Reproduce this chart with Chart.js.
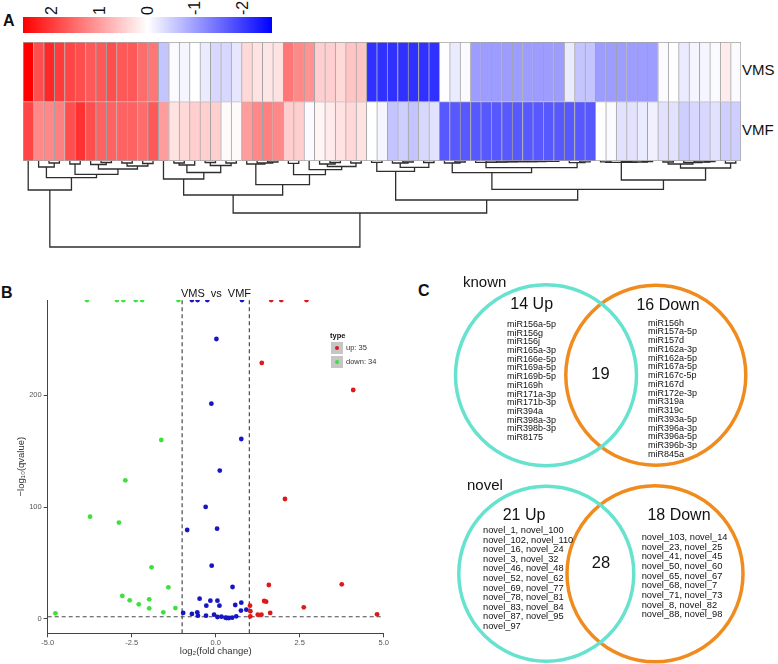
<!DOCTYPE html>
<html>
<head>
<meta charset="utf-8">
<script src="https://cdn.jsdelivr.net/npm/chart.js@4.4.1/dist/chart.umd.min.js"></script>
<style>
  html, body { margin: 0; padding: 0; background: #fff; }
  body { width: 778px; height: 664px; position: relative; overflow: hidden;
         font-family: "Liberation Sans", Arial, Helvetica, sans-serif; color: #111; }
  canvas { position: absolute; display: block; }
  .lab { position: absolute; white-space: nowrap; line-height: 1; }
  .panel { font-weight: bold; font-size: 16px; }
  .tick { position: absolute; font-size: 16px; line-height: 16px; transform: rotate(-90deg); transform-origin: 0 50%; }
  .list { position: absolute; white-space: pre; font-size: 9px; }
  .key { position: absolute; width: 12px; height: 12px; background: #c6c6c6; }
  .key i { position: absolute; left: 4px; top: 4px; width: 4px; height: 4px; border-radius: 50%; }
</style>
</head>
<body>
<div class="lab panel" style="left:3px;top:13px">A</div>
<div class="lab panel" style="left:1px;top:285px">B</div>
<div class="lab panel" style="left:418px;top:283px">C</div>

<div id="colorbar" style="position:absolute;left:23px;top:17px;width:249px;height:16px;background:linear-gradient(to right,#ff0000,#ffffff,#0000ff)"></div>
<div id="barTicks"></div>

<canvas id="heat" width="718" height="119" style="left:23px;top:42px"></canvas>
<canvas id="dendro" width="718" height="90" style="left:23px;top:161px"></canvas>
<div class="lab" style="left:742px;top:62px;font-size:15px">VMS</div>
<div class="lab" style="left:742px;top:122px;font-size:15px">VMF</div>

<canvas id="volcano" width="390" height="374" style="left:0px;top:290px"></canvas>
<div class="lab" style="left:216px;top:288px;font-size:11px;transform:translateX(-50%);word-spacing:3px">VMS vs VMF</div>
<div class="lab" style="left:330px;top:332px;font-size:7.5px;font-weight:bold">type</div>
<div class="key" style="left:331px;top:342px"><i style="background:#e01818"></i></div>
<div class="key" style="left:331px;top:356px"><i style="background:#3ee03e"></i></div>
<div class="lab" style="left:346px;top:344px;font-size:7.5px;color:#333">up: 35</div>
<div class="lab" style="left:346px;top:358px;font-size:7.5px;color:#333">down: 34</div>

<canvas id="venn" width="378" height="394" style="left:400px;top:270px"></canvas>
<div id="vennText"></div>

<script>
// heatmap values (row-scaled expression), left to right in dendrogram order
const vmsValues = [2.6, 1.8, 2.2, 2.0, 1.9, 1.8, 1.7, 1.7, 1.8, 1.7, 1.7, 1.5, 1.4,
  -0.6, -0.05, -0.1, 0, -0.2, -0.4, -0.4, -0.25,
  0.4, 0.3, 0.25, 0.3, 1.4, 1.2, 1.1, 0.5, 0.5, 0.4, 0.6, 0.6,
  -2.1, -2.1, -2.1, -2.1, -2.1, -2.1, -2.1, 0, -0.2, -0.05,
  -1.0, -1.0, -1.0, -1.0, -1.0, -1.0, -1.0, -1.0, -1.0, -0.2, -0.6, -0.6,
  -1.0, -1.0, -1.0, -1.0, -1.0, -1.0, -0.05, 0, -0.2, -0.1, -0.1, -0.05, 0.2, -0.05];
const vmfValues = [1.9, 1.2, 1.2, 1.3, 1.8, 2.1, 1.8, 1.6, 1.6, 1.6, 1.6, 1.5, 1.7,
  1.0, 0.3, 0.4, 0.5, 0.5, 0.5, 0.05, 0.05,
  1.0, 1.2, 1.3, 1.2, 0.5, 0.5, -0.05, 0.1, 0.2, 0.3, 0.4, 0.3,
  0, -0.1, -0.6, -0.5, -0.6, -0.4, -0.3,
  -1.7, -1.7, -1.7, -1.7, -1.7, -1.7, -1.7, -1.7, -1.7, -1.7, -1.7, -1.7, -1.7, -1.7, -1.7,
  0, -0.05, -0.3, -0.3, -0.2, -0.15, -0.3, -0.3, -0.5, -0.4, -0.4, -0.3, -0.5, -0.5];
const colorLimit = 2.6;
const colorTicks = [2, 1, 0, -1, -2];

// column dendrogram: [left, right, height], numbers are leaf indexes
const redCluster = [0, [[1, [2, 3, 2], 6], [[4, 5, 3], [[6, [7, 8, 1.5], 3.5], [[9, 10, 2], [11, 12, 2.5], 5], 8], 13.3], 16.7], 29];
const pinkCluster = [[13, [[[14, 15, 2], 16, 4], [[17, 18, 1.5], [19, 20, 2], 4.5], 11.5], 18],
  [[21, [22, [23, 24, 1], 2], 3], [[25, 26, 2.3], [27, [[28, [29, 30, 1.5], 3], [31, 32, 2], 5.5], 8.7], 13.7], 23.7], 34];
const blueChain = [43, [44, [45, [46, [47, [48, [49, [50, 51, 0.3], 0.4], 0.5], 0.6], 0.7], 0.9], 1.1], 1.4];
const blueCluster = [[[33, 34, 1.3], [[35, [36, 37, 1], 2], [38, 39, 1.5], 6.3], 10.3],
  [[[40, [41, 42, 1], 2], [blueChain, [52, [53, 54, 0.8], 1.7], 6.7], 11.7],
   [[[55, 56, 0.8], [[57, 58, 0.6], [59, 60, 0.7], 1], 1.3], [[[61, 62, 1], [63, [64, [65, 66, 0.6], 1], 1.5], 3], [67, 68, 2], 7], 19], 28.3], 39];
const dendroTree = [redCluster, [pinkCluster, blueCluster, 52], 86];

// volcano plot: [log2 fold change, -log10 qvalue]
const upPoints = [[1.37, 229], [4.09, 204.8], [2.06, 107.3], [3.75, 31], [1.58, 30.4], [1.44, 16.1], [1.50, 15.5],
  [2.62, 10.4], [1.02, 11.9], [1.03, 6.9], [1.62, 5.4], [1.25, 3.9], [1.36, 3.9], [1.03, 2.4], [4.80, 4.2]];
const downPoints = [[-1.62, 160.1], [-2.69, 124], [-3.74, 91.5], [-2.88, 86.2], [-1.91, 46.2], [-1.41, 28.3], [-2.78, 20.6],
  [-2.56, 16.7], [-1.98, 17.6], [-2.29, 13.1], [-1.98, 9.5], [-1.20, 9.8], [-4.77, 5.1], [-1.56, 6.0]];
const nsPoints = [[0.02, 250.4], [-0.13, 192.6], [0.76, 161], [0.12, 132.7], [-0.30, 100.2], [-0.85, 79.6], [0.04, 80.8],
  [-0.12, 47.7], [0.50, 28.6], [-0.48, 18.2], [-0.16, 16.4], [0.05, 16.4], [-0.28, 11.9], [0.11, 11.9], [0.76, 14.6],
  [0.58, 12.5], [0.91, 8.3], [0.75, 7.5], [-0.97, 5.4], [-0.71, 4.5], [-0.55, 6.0], [-0.53, 3.0], [-0.29, 3.0],
  [-0.05, 3.9], [0.05, 1.8], [0.17, 2.1], [0.29, 1.2], [0.39, 0.9], [0.49, 1.2], [0.61, 2.4], [0.32, 0.9]];
// qvalue = 0, drawn at the top edge of the panel
const upTopX = [1.65, 1.95, 2.70];
const downTopX = [-3.83, -2.94, -2.75, -2.38, -2.19, -1.11];
const nsTopX = [-0.71, -0.54, -0.25, 0.78];
const xTicks = [-5, -2.5, 0, 2.5, 5];
const yTicks = [0, 100, 200];
const foldCut = 1;
const qCut = 2;

// venn diagrams
const knownCounts = { up: 14, down: 16, both: 19 };
const novelCounts = { up: 21, down: 18, both: 28 };
const knownUp = ['miR156a-5p', 'miR156g', 'miR156j', 'miR165a-3p', 'miR166e-5p', 'miR169a-5p', 'miR169b-5p',
  'miR169h', 'miR171a-3p', 'miR171b-3p', 'miR394a', 'miR398a-3p', 'miR398b-3p', 'miR8175'];
const knownDown = ['miR156h', 'miR157a-5p', 'miR157d', 'miR162a-3p', 'miR162a-5p', 'miR167a-5p', 'miR167c-5p', 'miR167d',
  'miR172e-3p', 'miR319a', 'miR319c', 'miR393a-5p', 'miR396a-3p', 'miR396a-5p', 'miR396b-3p', 'miR845a'];
const novelUp = ['novel_1, novel_100', 'novel_102, novel_110', 'novel_16, novel_24', 'novel_3, novel_32',
  'novel_46, novel_48', 'novel_52, novel_62', 'novel_69, novel_77', 'novel_78, novel_81', 'novel_83, novel_84',
  'novel_87, novel_95', 'novel_97'];
const novelDown = ['novel_103, novel_14', 'novel_23, novel_25', 'novel_41, novel_45', 'novel_50, novel_60',
  'novel_65, novel_67', 'novel_68, novel_7', 'novel_71, novel_73', 'novel_8, novel_82', 'novel_88, novel_98'];

Chart.defaults.font.family = '"Liberation Sans", Arial, Helvetica, sans-serif';
Chart.defaults.animation = false;
Chart.defaults.events = [];
Chart.defaults.layout.autoPadding = false;
Chart.defaults.plugins.legend.display = false;
Chart.defaults.plugins.tooltip.enabled = false;

function heatColor(v) {
  const t = Math.max(-1, Math.min(1, v / colorLimit));
  const k = Math.round(255 * (1 - Math.abs(t)));
  return t >= 0 ? `rgb(255,${k},${k})` : `rgb(${k},${k},255)`;
}

// colour key labels
(function () {
  const holder = document.getElementById('barTicks');
  colorTicks.forEach((v) => {
    const x = 23 + 249 * (colorLimit - v) / (2 * colorLimit);
    const d = document.createElement('div');
    d.className = 'tick';
    d.textContent = String(v);
    d.style.left = x + 'px';
    d.style.top = (15 - 8) + 'px';
    holder.appendChild(d);
  });
})();

// heatmap
const last = vmsValues.length - 1;
new Chart(document.getElementById('heat'), {
  type: 'bar',
  data: {
    labels: vmsValues.map((_, i) => i),
    datasets: [
      { data: vmsValues.map(() => [1, 2]), backgroundColor: vmsValues.map(heatColor) },
      { data: vmfValues.map(() => [0, 1]), backgroundColor: vmfValues.map(heatColor) }
    ]
  },
  options: {
    responsive: false,
    layout: { padding: 0, autoPadding: false },
    datasets: {
      bar: {
        grouped: false, barPercentage: 1, categoryPercentage: 1,
        borderColor: '#a3a3a3', borderSkipped: false,
        borderWidth: (ctx) => ({ left: 1, top: 1, right: ctx.dataIndex === last ? 1 : 0, bottom: ctx.datasetIndex === 1 ? 1 : 0 })
      }
    },
    scales: { x: { display: false }, y: { display: false, min: 0, max: 2 } }
  }
});

// dendrogram
function treeSegments(node, out) {
  if (typeof node === 'number') return { x: node, h: 0 };
  const l = treeSegments(node[0], out);
  const r = treeSegments(node[1], out);
  const h = node[2];
  out.push([{ x: l.x, y: l.h }, { x: l.x, y: h }, { x: r.x, y: h }, { x: r.x, y: r.h }]);
  return { x: (l.x + r.x) / 2, h };
}
const segments = [];
treeSegments(dendroTree, segments);
new Chart(document.getElementById('dendro'), {
  type: 'scatter',
  data: {
    datasets: segments.map((seg) => ({
      data: seg, showLine: true, pointRadius: 0, borderColor: '#2e2e2e', borderWidth: 1.3, clip: false
    }))
  },
  options: {
    responsive: false,
    layout: { padding: 0, autoPadding: false },
    scales: {
      x: { type: 'linear', display: false, min: -0.5, max: vmsValues.length - 0.5 },
      y: { type: 'linear', display: false, min: 0, max: 90, reverse: true }
    }
  }
});

// volcano plot
const Y_MIN = -12.8, Y_MAX = 285.3, X_MIN = -5, X_MAX = 5;
const toXY = (p) => ({ x: p[0], y: p[1] });
const atTop = (x) => ({ x, y: Y_MAX });
const pointSet = (pts, top, color) => ({
  data: pts.map(toXY).concat(top.map(atTop)),
  backgroundColor: color, borderWidth: 0, pointRadius: 2.4,
  clip: { left: 4, right: 4, top: 0, bottom: 4 }
});
const dashSet = (pts) => ({
  data: pts, showLine: true, pointRadius: 0, borderColor: '#4a4a4a', borderWidth: 1.2, borderDash: [4, 3]
});
const axisGrid = { drawOnChartArea: false, tickLength: 4, color: '#444' };
new Chart(document.getElementById('volcano'), {
  type: 'scatter',
  data: {
    datasets: [
      pointSet(upPoints, upTopX, '#e01818'),
      pointSet(downPoints, downTopX, '#3ee03e'),
      pointSet(nsPoints, nsTopX, '#1616c4'),
      dashSet([{ x: -foldCut, y: Y_MIN }, { x: -foldCut, y: Y_MAX }]),
      dashSet([{ x: foldCut, y: Y_MIN }, { x: foldCut, y: Y_MAX }]),
      dashSet([{ x: X_MIN, y: qCut }, { x: X_MAX, y: qCut }])
    ]
  },
  options: {
    responsive: false,
    layout: { padding: { top: 10, right: 3.3, left: 0, bottom: 0 }, autoPadding: false },
    scales: {
      x: {
        type: 'linear', min: X_MIN, max: X_MAX,
        afterBuildTicks: (s) => { s.ticks = xTicks.map((v) => ({ value: v })); },
        afterFit: (s) => { s.height = 30.7; },
        grid: axisGrid, border: { display: true, color: '#444', width: 1 },
        ticks: { autoSkip: false, maxRotation: 0, padding: 1, color: '#555', font: { size: 7.5 }, callback: (v) => Number(v).toFixed(1) },
        title: { display: true, text: 'log₂(fold change)', color: '#333', font: { size: 9.5 }, padding: { top: 0, bottom: 6.5 } }
      },
      y: {
        type: 'linear', min: Y_MIN, max: Y_MAX,
        afterBuildTicks: (s) => { s.ticks = yTicks.map((v) => ({ value: v })); },
        afterFit: (s) => { s.width = 47.7; },
        grid: axisGrid, border: { display: true, color: '#444', width: 1 },
        ticks: { padding: 2, color: '#555', font: { size: 7.5 } },
        title: { display: true, text: '−log₁₀(qvalue)', color: '#333', font: { size: 9.5 }, padding: { top: 16, bottom: 0 } }
      }
    }
  }
});

// venn circles, scale in page pixels of the panel
const vennCircles = [
  { x: 546, y: 375.3, r: 90.5, color: '#66e2cf' },
  { x: 655.8, y: 375.3, r: 90, color: '#f08c1e' },
  { x: 546.3, y: 573.7, r: 87.5, color: '#66e2cf' },
  { x: 655, y: 573.7, r: 88, color: '#f08c1e' }
];
new Chart(document.getElementById('venn'), {
  type: 'scatter',
  data: {
    datasets: vennCircles.map((c) => ({
      data: [{ x: c.x, y: c.y }], pointRadius: c.r, pointStyle: 'circle',
      backgroundColor: 'rgba(0,0,0,0)', borderColor: c.color, borderWidth: 3.5, clip: false
    }))
  },
  options: {
    responsive: false,
    layout: { padding: 0, autoPadding: false },
    scales: {
      x: { type: 'linear', display: false, min: 400, max: 778 },
      y: { type: 'linear', display: false, min: 270, max: 664, reverse: true }
    }
  }
});

// venn texts
(function () {
  const holder = document.getElementById('vennText');
  const add = (text, css, cls) => {
    const d = document.createElement('div');
    d.className = cls || 'lab';
    d.textContent = text;
    d.style.cssText = css;
    holder.appendChild(d);
  };
  add('known', 'left:463px;top:273.5px;font-size:15px');
  add(knownCounts.up + ' Up', 'left:531.7px;top:296px;font-size:16px;transform:translateX(-50%)');
  add(knownCounts.down + ' Down', 'left:668px;top:297px;font-size:16px;transform:translateX(-50%)');
  add(String(knownCounts.both), 'left:600.5px;top:364.5px;font-size:16.5px;transform:translateX(-50%)');
  add(knownUp.join('\n'), 'left:507px;top:319.8px;line-height:8.72px', 'list');
  add(knownDown.join('\n'), 'left:648px;top:318.5px;line-height:8.75px', 'list');
  add('novel', 'left:467px;top:477px;font-size:15px');
  add(novelCounts.up + ' Up', 'left:524px;top:507px;font-size:16px;transform:translateX(-50%)');
  add(novelCounts.down + ' Down', 'left:679px;top:507px;font-size:16px;transform:translateX(-50%)');
  add(String(novelCounts.both), 'left:601px;top:553.5px;font-size:16.5px;transform:translateX(-50%)');
  add(novelUp.join('\n'), 'left:483px;top:526px;line-height:9.6px;font-size:9.3px', 'list');
  add(novelDown.join('\n'), 'left:641.7px;top:533px;line-height:9.67px;font-size:9.3px', 'list');
})();
</script>
</body>
</html>
